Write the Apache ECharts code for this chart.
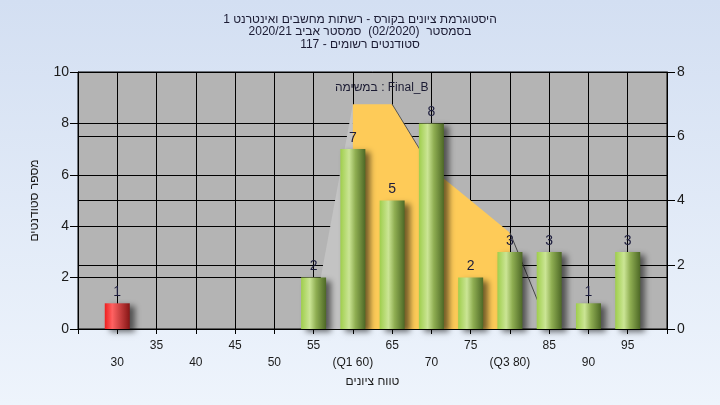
<!DOCTYPE html>
<html><head><meta charset="utf-8">
<script src="https://cdn.jsdelivr.net/npm/echarts@6/dist/echarts.min.js"></script>
<style>html,body{margin:0;padding:0;} #c{width:720px;height:405px;}</style>
</head><body><div id="c" dir="rtl"></div>
<script>
// ---- data ----
const titleLines = [
  'היסטוגרמת ציונים בקורס - רשתות מחשבים ואינטרנט 1',
  'בסמסטר  (02/2020)  סמסטר אביב 2020/21',
  'סטודנטים רשומים - 117'
];
const taskLabel = 'Final_B : במשימה';
const xAxisName = 'טווח ציונים';
const yAxisName = 'מספר סטודנטים';
const categories = ['25','30','35','40','45','50','55','60','65','70','75','80','85','90','95','100'];
const tickLabels = ['','30','35','40','45','50','55','(Q1 60)','65','70','75','(Q3 80)','85','90','95',''];
const counts = [0,1,0,0,0,0,2,7,5,8,2,3,3,1,3,0];
const quartileArea = [null,null,null,null,null,null,null,7,7,5,4,3,null,null,null,null];
const sideFace = [null,null,null,null,null,null,0.4,7,null,null,null,null,null,null,null,null];
const topEdge = [null,null,null,null,null,null,null,null,7,5,null,null,null,null,null,null];
const rightEdge = [null,null,null,null,null,null,null,null,null,null,null,3,0,null,null,null];
const passMark = 55;

// ---- style ----
const FONT = 'Liberation Sans, Arial, DejaVu Sans, sans-serif';
const G = echarts.graphic.LinearGradient;
const greenFill = new G(0,0,1,0,[{offset:0,color:'#9fce4c'},{offset:0.35,color:'#cbe595'},{offset:0.6,color:'#8fae52'},{offset:1,color:'#4d6826'}]);
const redFill = new G(0,0,1,0,[{offset:0,color:'#ee1f1f'},{offset:0.3,color:'#ff6262'},{offset:1,color:'#851515'}]);

const chart = echarts.init(document.getElementById('c'), null, {renderer:'canvas'});
chart.setOption({
  animation:false,
  backgroundColor: new G(0,0,0,1,[{offset:0,color:'#d3dff2'},{offset:1,color:'#eef4fc'}]),
  textStyle:{fontFamily:FONT},
  title:[
    {text: titleLines.join('\n'), left:'center', top:8,
     textStyle:{fontSize:12, fontWeight:'normal', color:'#1b1b33', lineHeight:12.5, fontFamily:FONT}},
    {text: taskLabel, left:330, top:77,
     textStyle:{fontSize:12, fontWeight:'normal', color:'#1b1b33', fontFamily:FONT}}
  ],
  grid:{left:78, right:53, top:72, bottom:76, show:true, backgroundColor:'#b4b4b4', borderColor:'#000', borderWidth:1},
  xAxis:{
    type:'category', data:categories, boundaryGap:false,
    name:xAxisName, nameLocation:'middle', nameGap:43,
    nameTextStyle:{fontSize:12, color:'#1b1b1b', fontFamily:FONT},
    axisLine:{lineStyle:{color:'#000', width:1}},
    axisTick:{show:true, length:5, interval:0, lineStyle:{color:'#000'}},
    axisLabel:{interval:0, margin:8, fontSize:12, color:'#1b1b1b', lineHeight:17, fontFamily:FONT,
      formatter:(v,i)=>{ const t=tickLabels[i]; if(!t) return ''; return (i%2===0)? t : '\n'+t; }},
    splitLine:{show:true, interval:0, lineStyle:{color:'#000', width:1}}
  },
  yAxis:[
    {type:'value', min:0, max:10, interval:2, position:'left',
     name:yAxisName, nameLocation:'middle', nameGap:37,
     nameTextStyle:{fontSize:12, color:'#1b1b1b', fontFamily:FONT},
     axisLine:{show:true, lineStyle:{color:'#000'}},
     axisTick:{show:true, length:8, lineStyle:{color:'#000'}},
     axisLabel:{fontSize:14, color:'#1b1b1b', margin:9, fontFamily:FONT},
     splitLine:{show:true, lineStyle:{color:'#000', width:1}}},
    {type:'value', min:0, max:8, interval:2, position:'right',
     axisLine:{show:true, lineStyle:{color:'#000'}},
     axisTick:{show:true, length:8, lineStyle:{color:'#000'}},
     axisLabel:{fontSize:14, color:'#1b1b1b', margin:10, fontFamily:FONT},
     splitLine:{show:true, lineStyle:{color:'#000', width:1}}}
  ],
  series:[
    {type:'line', yAxisIndex:1, data:sideFace, symbol:'none', z:2,
     lineStyle:{width:0}, areaStyle:{color:'#c3c3c3', opacity:1}},
    {type:'line', yAxisIndex:1, data:quartileArea, symbol:'none', z:3,
     lineStyle:{width:0}, areaStyle:{color:'#fecb58', opacity:1}},
    {type:'line', yAxisIndex:1, data:topEdge, symbol:'none', z:4,
     lineStyle:{width:1, color:'#555'}},
    {type:'line', yAxisIndex:1, data:rightEdge, symbol:'none', z:4,
     lineStyle:{width:1, color:'#444'}},
    {type:'bar', yAxisIndex:0, barWidth:25, z:5,
     data: counts.map((v,i)=>({value:v, itemStyle:{color: (+categories[i] < passMark) ? redFill : greenFill}})),
     itemStyle:{shadowBlur:6, shadowOffsetX:5, shadowOffsetY:3, shadowColor:'rgba(0,0,0,0.55)'},
     label:{show:true, position:'top', distance:4, fontSize:14, color:'#1c1c3c', fontFamily:FONT,
       formatter:p=> p.value>0 ? String(p.value) : ''}}
  ]
});
</script></body></html>
